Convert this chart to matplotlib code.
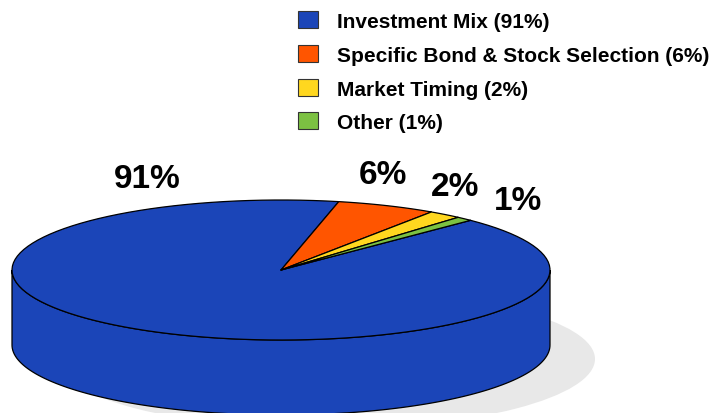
import numpy as np
import matplotlib

matplotlib.use("Agg")
import matplotlib.pyplot as plt
from matplotlib.patches import Polygon, Ellipse, Rectangle

# performance attribution shares
categories = ["Investment Mix", "Specific Bond & Stock Selection", "Market Timing", "Other"]
shares = [91, 6, 2, 1]
colors = ["#1b45b8", "#ff5500", "#ffd71f", "#7cc142"]

# pie geometry in pixels (y grows downward)
cx, cy = 281, 270
rx, ry = 269, 70
depth = 75
start_angle = 45.2
label_pos = [(147, 179), (383, 176), (455, 188), (518, 202)]

fig = plt.figure(figsize=(7.18, 4.13), dpi=100)
ax = fig.add_axes([0, 0, 1, 1])
ax.set_xlim(0, 718)
ax.set_ylim(413, 0)
ax.axis("off")


def rim(t_from, t_to, dy=0.0, n=120):
    t = np.radians(np.linspace(t_from, t_to, n))
    return np.column_stack([cx + rx * np.cos(t), cy + dy - ry * np.sin(t)])


# drop shadow under the disc
ax.add_patch(Ellipse((cx + 45, cy + depth + 14), 2 * rx, 2 * ry,
                     facecolor="#e8e8e8", edgecolor="none", zorder=1))

# slice angle ranges, clockwise from the start angle
bounds = []
t = start_angle
for v in shares:
    t_next = t - 360 * v / sum(shares)
    bounds.append((t, t_next))
    t = t_next

# front side wall (angles between 180 and 360)
for (hi, lo), c in zip(bounds, colors):
    for k in (-1, 0, 1):
        s = max(lo, -180 + 360 * k)
        e = min(hi, 360 * k)
        if s < e:
            pts = np.vstack([rim(s, e), rim(e, s, depth)])
            ax.add_patch(Polygon(pts, closed=True, facecolor=c,
                                 edgecolor="black", lw=0.9, zorder=2))

# top face
for (hi, lo), c in zip(bounds, colors):
    pts = np.vstack([[cx, cy], rim(hi, lo)])
    ax.add_patch(Polygon(pts, closed=True, facecolor=c, edgecolor="black",
                         lw=0.9, joinstyle="round", zorder=3))

for v, (lx, ly) in zip(shares, label_pos):
    ax.text(lx, ly, f"{v}%", fontsize=24, fontweight="bold",
            family="Liberation Sans", ha="center", va="center", zorder=4)

# legend
for i, (name, v, c) in enumerate(zip(categories, shares, colors)):
    y = 28 + i * 33.8
    ax.add_patch(Rectangle((298, y - 17), 20, 17, facecolor=c,
                           edgecolor="#333333", lw=0.8, zorder=4))
    ax.text(337, y, f"{name} ({v}%)", fontsize=15, fontweight="bold",
            family="Liberation Sans", ha="left", va="baseline", zorder=4)

fig.savefig("out.png", dpi=100)
